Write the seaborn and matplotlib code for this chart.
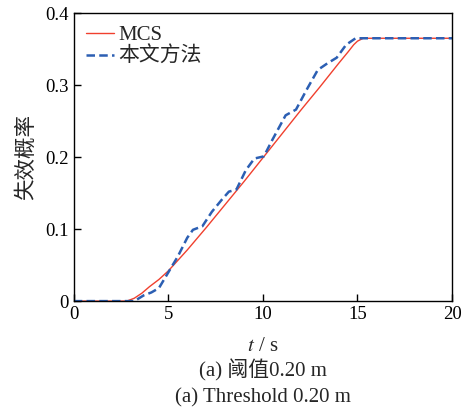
import matplotlib
matplotlib.use('Agg')
import matplotlib.pyplot as plt
import pandas as pd
import seaborn as sns

# datos
t_mcs = [0, 2.8, 3.2, 3.6, 4.0, 4.5, 5.0, 6.0, 7.0, 8.0, 9.0, 10.0, 11.0,
         12.0, 13.0, 14.0, 14.5, 14.8, 15.0, 15.3, 20.0]
p_mcs = [0, 0, 0.004, 0.011, 0.020, 0.030, 0.042, 0.071, 0.102, 0.134, 0.166,
         0.199, 0.232, 0.265, 0.297, 0.330, 0.346, 0.356, 0.361, 0.365, 0.365]

t_prop = [0, 3.2, 3.7, 4.1, 4.5, 5.0, 5.5, 6.0, 6.3, 6.8, 7.3, 7.8, 8.2,
          8.6, 9.1, 9.55, 10.05, 10.5, 11.2, 11.75, 12.3, 12.9, 13.4, 13.9,
          14.4, 14.9, 20.0]
p_prop = [0, 0, 0.008, 0.012, 0.018, 0.040, 0.062, 0.088, 0.099, 0.104,
          0.124, 0.140, 0.152, 0.155, 0.182, 0.198, 0.201, 0.224, 0.258,
          0.266, 0.293, 0.321, 0.330, 0.338, 0.356, 0.365, 0.365]

sns.set_style('ticks')
plt.rcParams['font.family'] = ['Liberation Serif', 'Noto Sans CJK SC']
plt.rcParams['mathtext.fontset'] = 'stix'

fig = plt.figure(figsize=(4.67, 4.08), dpi=100)
ax = fig.add_axes([0.158, 0.262, 0.81, 0.706])

df_mcs = pd.DataFrame({'t': t_mcs, 'p': p_mcs})
df_prop = pd.DataFrame({'t': t_prop, 'p': p_prop})
sns.lineplot(x='t', y='p', data=df_mcs, ax=ax, color='#f0402e', lw=1.0,
             label='MCS')
sns.lineplot(x='t', y='p', data=df_prop, ax=ax, color='#2c5fb3', lw=1.8,
             ls=(0, (3.4, 1.7)), label='本文方法')

ax.set_xlim(0, 20)
ax.set_ylim(0, 0.4)
ax.set_xticks([0, 5, 10, 15, 20])
ax.set_yticks([0, 0.1, 0.2, 0.3, 0.4])
ax.set_yticklabels(['0', '0.1', '0.2', '0.3', '0.4'])
ax.tick_params(direction='in', length=5, width=1, labelsize=13.5,
               colors='black', top=False, right=False)
for s in ax.spines.values():
    s.set_color('black')
    s.set_linewidth(1)

ax.set_xlabel('$t$ / s', fontsize=15, labelpad=10)
ax.set_ylabel('失效概率', fontsize=15.5, labelpad=6)
ax.legend(loc='upper left', frameon=False, fontsize=15, handlelength=1.35,
          borderaxespad=0.2, labelspacing=0.1, handletextpad=0.2)

fig.text(0.563, 0.092, '(a) 阈值0.20 m', ha='center', va='center',
         fontsize=15)
fig.text(0.563, 0.026, '(a) Threshold 0.20 m', ha='center', va='center',
         fontsize=15)

fig.savefig('out.png', dpi=100)
